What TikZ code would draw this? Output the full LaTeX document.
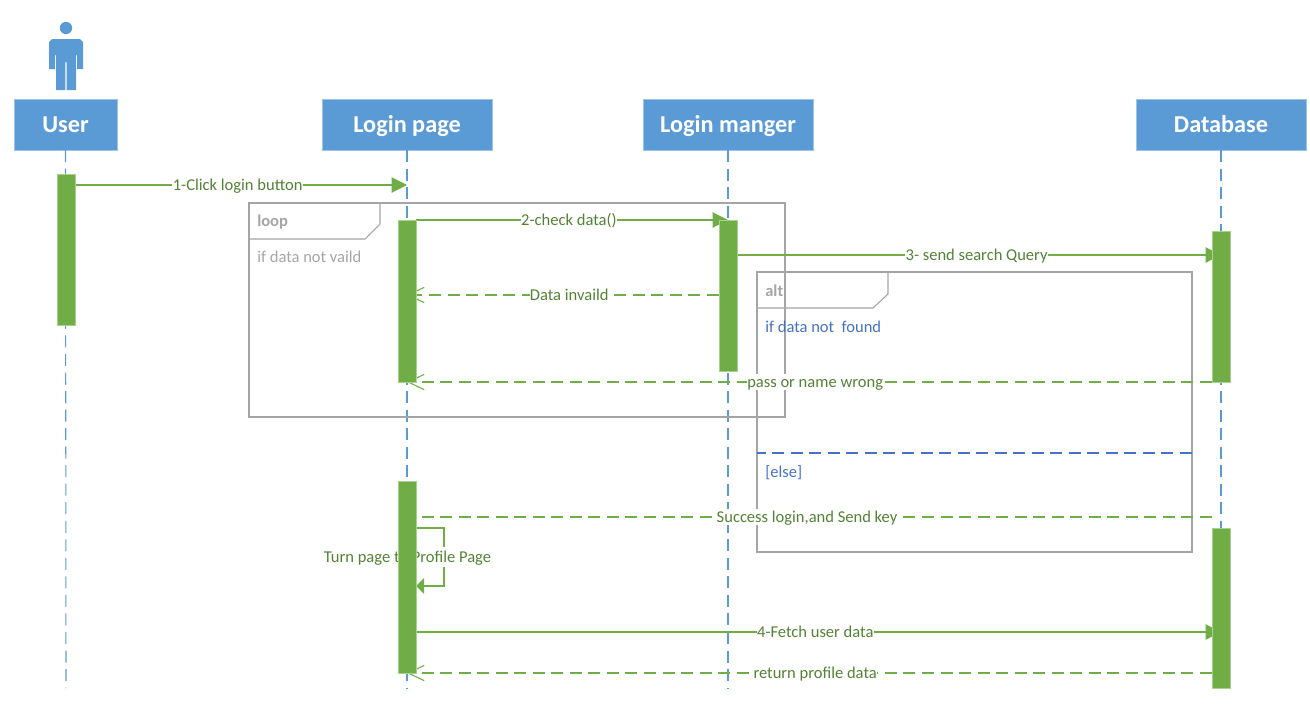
\documentclass[tikz,border=0pt]{standalone}
\usepackage{fontspec}
\setmainfont{Carlito}
\usetikzlibrary{arrows.meta,calc}
\definecolor{hdrblue}{HTML}{5B9BD5}
\definecolor{hdredge}{HTML}{9DC3E6}
\definecolor{barg}{HTML}{70AD47}
\definecolor{baredge}{HTML}{A9D18E}
\definecolor{txtg}{HTML}{548235}
\definecolor{txtb}{HTML}{4472C4}
\definecolor{frameg}{HTML}{A5A5A5}
\tikzset{
  px/.style={x=0.75pt,y=-0.75pt},
  header/.style={draw=hdredge,fill=hdrblue,text=white,minimum height=38pt,inner sep=0pt,text height=14.5pt,text depth=2.6pt,font=\fontsize{18.2}{20}\selectfont\bfseries},
  lifeline/.style={draw=hdrblue,line width=0.8pt,dash pattern=on 9pt off 4.9pt},
  actbar/.style={draw=baredge,fill=barg,line width=0.5pt,minimum width=13.5pt,inner sep=0pt},
  msg/.style={draw=barg,line width=0.8pt},
  sync/.style={msg,-{Triangle[length=11.5pt,width=11.5pt]}},
  reply/.style={msg,dash pattern=on 9pt off 4.9pt},
  replyarrow/.style={reply,-{Straight Barb[length=12pt,width=11.5pt]}},
  lbl/.style={fill=white,text=txtg,inner sep=0.3pt,text height=10pt,text depth=1.6pt,font=\fontsize{12.4}{14}\selectfont},
  frameline/.style={draw=frameg,line width=0.8pt},
  frametag/.style={text=frameg,anchor=west,inner sep=0pt,text height=10pt,text depth=1.6pt,font=\fontsize{12.4}{14}\selectfont\bfseries},
  framenote/.style={text=frameg,anchor=west,inner sep=0pt,text height=10pt,text depth=1.6pt,font=\fontsize{12.4}{14}\selectfont},
  guard/.style={text=txtb,anchor=west,inner sep=0pt,text height=10pt,text depth=1.6pt,font=\fontsize{12.4}{14}\selectfont},
}
\begin{document}
\begin{tikzpicture}[px]
\useasboundingbox (0,0) rectangle (1310,711);
% actor
\fill[hdrblue] (66,28) circle (6.2);
\fill[hdrblue] (52,39) -- (80,39) -- (83,42) -- (83,69) -- (77,69) -- (77,55) -- (76,55) -- (76,90) -- (66.6,90) -- (66.6,62) -- (65.4,62) -- (65.4,90) -- (56,90) -- (56,55) -- (55,55) -- (55,69) -- (49,69) -- (49,42) -- cycle;
% headers
\node[header,minimum width=77pt] (user) at (65.5,124.5) {User};
\node[header,minimum width=127.2pt] (page) at (407,124.5) {Login page};
\node[header,minimum width=127.2pt] (mgr) at (728,124.5) {Login manger};
\node[header,minimum width=127.2pt] (db) at (1221,124.5) {Database};
% lifeline ends
\coordinate (userEnd) at (66,688);
\coordinate (pageEnd) at (407,688);
\coordinate (mgrEnd) at (728,688);
\coordinate (dbEnd) at (1221,688);
\draw[lifeline] (user.south) -- (userEnd);
\draw[lifeline] (page.south) -- (pageEnd);
\draw[lifeline] (mgr.south) -- (mgrEnd);
\draw[lifeline] (db.south) -- (dbEnd);
% loop frame
\draw[frameline] (249,203) rectangle (785,417);
\draw[frameline] (380,203) -- (380,224) -- (365,239) -- (249,239);
\node[frametag] (looptag) at (257,221) {loop};
\node[framenote] (loopnote) at (257,257) {if data not vaild};
% alt frame
\draw[frameline] (757,272) rectangle (1192,552);
\draw[frameline] (888,272) -- (888,294) -- (873,308) -- (757,308);
\draw[draw=txtb,line width=0.9pt,dash pattern=on 9pt off 4.9pt] (1192,453) -- (757,453);
\node[frametag] (alttag) at (765,291) {alt};
\node[guard] (g1) at (765,327) {if data not\ \ found};
\node[guard] (g2) at (765,472) {[else]};
% coordinates of message ends
\coordinate (m1a) at (75,185);   \coordinate (m1b) at (407,185);
\coordinate (m2a) at (416,220);  \coordinate (m2b) at (728,220);
\coordinate (m3a) at (737,255);  \coordinate (m3b) at (1221,255);
\coordinate (m4a) at (719,295);  \coordinate (m4b) at (407,295);
\coordinate (m5a) at (1212,382); \coordinate (m5b) at (407,382);
\coordinate (m6a) at (1212,517); \coordinate (m6b) at (398,517);
\coordinate (s1) at (416,528); \coordinate (s2) at (444,528);
\coordinate (s3) at (444,586); \coordinate (s4) at (416,586);
\coordinate (m7a) at (416,632);  \coordinate (m7b) at (1221,632);
\coordinate (m8a) at (1212,673); \coordinate (m8b) at (407,673);
% messages
\draw[sync] (m1a) -- node[lbl,pos=0.490] (l1) {1-Click login button} (m1b);
\draw[sync] (m2a) -- node[lbl,pos=0.49] (l2) {2-check data()} (m2b);
\draw[sync] (m3a) -- node[lbl,pos=0.495] (l3) {3- send search Query} (m3b);
\draw[replyarrow] (m4a) -- node[lbl,pos=0.48] (l4) {Data invaild} (m4b);
\draw[replyarrow] (m5a) -- node[lbl,pos=0.493] (l5) {pass or name wrong} (m5b);
\draw[reply] (m6a) -- node[lbl,pos=0.4975] (l6) {Success login,and Send key} (m6b);
\draw[msg,-{Triangle[length=6pt,width=11.5pt]}] (s1) -- (s2) -- (s3) -- (s4);
\node[fill=white,inner sep=0pt,minimum width=6pt,minimum height=15pt] (l7bg) at (444,557) {};
\node[text=txtg,inner sep=0pt,text height=10pt,text depth=1.6pt,font=\fontsize{12.4}{14}\selectfont] (l7) at (407.5,557) {Turn page to Profile Page};
\draw[sync] (m7a) -- node[lbl,pos=0.496] (l8) {4-Fetch user data} (m7b);
\draw[replyarrow] (m8a) -- node[lbl,pos=0.493] (l9) {return profile data} (m8b);
% activation bars
\node[actbar,minimum height=113.25pt] (b1) at (66,249.5) {};
\node[actbar,minimum height=121.5pt] (b2) at (407,301) {};
\node[actbar,minimum height=144pt] (b3) at (407,577) {};
\node[actbar,minimum height=113.25pt] (b4) at (728,295.5) {};
\node[actbar,minimum height=113.25pt] (b5) at (1221,307) {};
\node[actbar,minimum height=120pt] (b6) at (1221,608) {};
\end{tikzpicture}
\end{document}
